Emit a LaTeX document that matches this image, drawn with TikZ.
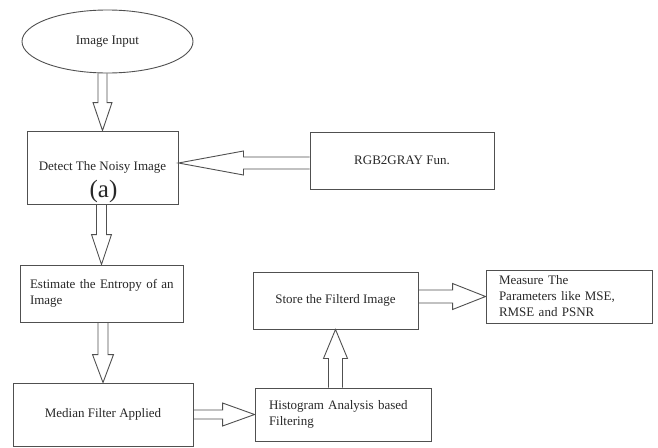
\documentclass[tikz,border=0pt]{standalone}
\usepackage{fontspec}
\setmainfont{Liberation Serif}
\usetikzlibrary{calc,shapes.geometric}
\definecolor{linec}{RGB}{80,80,80}
\definecolor{textc}{RGB}{40,40,40}
\newcommand\blockarrow[5]{%
 \draw[barrow] let \p1=(#1), \p2=(#2), \n1={veclen(\x2-\x1,\y2-\y1)}, \n2={atan2(\y2-\y1,\x2-\x1)} in
  [shift={(\p1)}, rotate=\n2]
  (0,-#3) -- ({\n1-#5},-#3) -- ({\n1-#5},-#4) -- (\n1,0) -- ({\n1-#5},#4) -- ({\n1-#5},#3) -- (0,#3);
}
\begin{document}
\begin{tikzpicture}[x=1pt,y=1pt,
  box/.style={draw=linec, line width=0.9pt, text=textc, font=\fontsize{13}{16}\selectfont, inner sep=0pt, rectangle},
  lbox/.style={box, align=left},
  barrow/.style={draw=linec, line width=0.9pt, line join=miter}]
\useasboundingbox[fill=white] (0,0) rectangle (658,-447);
\node[box, ellipse, minimum width=171, minimum height=63] (in) at (107.5,-41.5) {Image Input};
\node[box, minimum width=151, minimum height=73] (det) at (102.5,-167.5) {Detect The Noisy Image};
\node[text=textc, font=\fontsize{25}{28}\selectfont, inner sep=0pt] (lbl) at (103.5,-191) {(a)};
\node[box, minimum width=184, minimum height=57] (rgb) at (402,-160.5) {RGB2GRAY Fun.};
\node[lbox, minimum width=163, minimum height=57, inner xsep=10pt, text width=143pt] (est) at (101.5,-293.5) {\mbox{Estimate the Entropy of an}\\Image};
\node[box, minimum width=180, minimum height=63] (med) at (103,-414.5) {Median Filter Applied};
\node[lbox, minimum width=176, minimum height=53, inner xsep=14pt, text width=148pt] (hist) at (343,-414.5) {\mbox{Histogram Analysis based}\\Filtering};
\node[box, minimum width=165, minimum height=57] (store) at (335.5,-300.5) {Store the Filterd Image};
\node[lbox, minimum width=166, minimum height=53, inner xsep=13pt, text width=140pt] (meas) at (569,-296.5) {Measure The\\\mbox{Parameters like MSE,}\\RMSE and PSNR};
\blockarrow{det.north |- in.south}{det.north}{4.5}{9.5}{28}
\blockarrow{est.north |- det.south}{est.north}{5}{10}{30}
\blockarrow{med.north |- est.south}{med.north}{5}{10.5}{28}
\blockarrow{med.east}{med.east -| hist.west}{4.5}{11.5}{32}
\blockarrow{store.south |- hist.north}{store.south}{7}{12}{29}
\blockarrow{meas.west -| store.east}{meas.west}{6.5}{13}{33}
\coordinate (rgbin) at ($(rgb.west)+(0,-2.5)$);
\blockarrow{rgbin}{rgbin -| det.east}{6}{12}{65}
\end{tikzpicture}
\end{document}
